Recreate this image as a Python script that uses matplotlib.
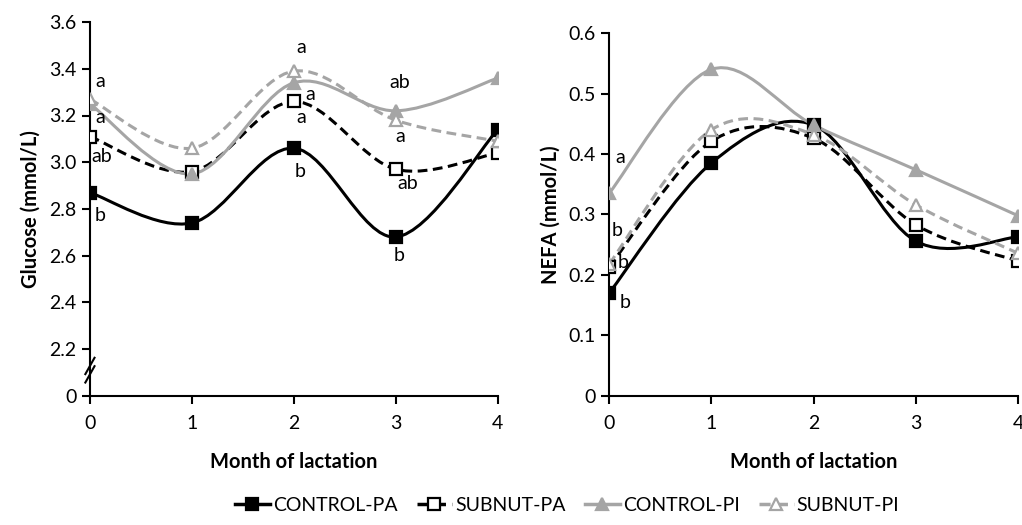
import matplotlib
matplotlib.use("Agg")
import matplotlib.pyplot as plt
import numpy as np
from matplotlib.path import Path
from matplotlib.patches import PathPatch
from matplotlib.lines import Line2D

plt.rcParams["font.family"] = ["Lato", "DejaVu Sans"]

months = [0, 1, 2, 3, 4]
series_names = ["CONTROL-PA", "SUBNUT-PA", "CONTROL-PI", "SUBNUT-PI"]

glucose_control_pa = [2.87, 2.74, 3.06, 2.68, 3.14]
glucose_subnut_pa = [3.11, 2.96, 3.26, 2.97, 3.04]
glucose_control_pi = [3.25, 2.95, 3.34, 3.22, 3.36]
glucose_subnut_pi = [3.27, 3.06, 3.39, 3.18, 3.09]

nefa_control_pa = [0.170, 0.385, 0.448, 0.256, 0.263]
nefa_subnut_pa = [0.213, 0.421, 0.426, 0.283, 0.223]
nefa_control_pi = [0.335, 0.540, 0.448, 0.374, 0.298]
nefa_subnut_pi = [0.218, 0.440, 0.432, 0.316, 0.236]

# significance letters (x, y, text)
glucose_letters = [
    (0.1, 3.345, "a"), (0.1, 3.19, "a"), (0.12, 3.025, "ab"), (0.1, 2.77, "b"),
    (2.07, 3.49, "a"), (2.16, 3.29, "a"), (2.07, 3.19, "a"), (2.06, 2.96, "b"),
    (3.04, 3.34, "ab"), (3.04, 3.11, "a"), (3.12, 2.91, "ab"), (3.03, 2.60, "b"),
]
nefa_letters = [
    (0.11, 0.395, "a"), (0.08, 0.274, "b"), (0.14, 0.22, "b"), (0.16, 0.154, "b"),
]

GREY = "#a5a5a5"
FS = 14
styles = {
    "CONTROL-PA": dict(color="black", ls="-", marker="s", mfc="black"),
    "SUBNUT-PA": dict(color="black", ls=(0, (3.2, 1.8)), marker="s", mfc="white"),
    "CONTROL-PI": dict(color=GREY, ls="-", marker="^", mfc=GREY),
    "SUBNUT-PI": dict(color=GREY, ls=(0, (3.2, 1.8)), marker="^", mfc="white"),
}


def smooth_path(x, y):
    # Excel-style smoothed line: cubic Bezier through points
    pts = np.column_stack([x, y]).astype(float)
    n = len(pts)
    verts = [pts[0]]
    codes = [Path.MOVETO]
    for i in range(n - 1):
        p0 = pts[i - 1] if i > 0 else pts[i]
        p1 = pts[i]
        p2 = pts[i + 1]
        p3 = pts[i + 2] if i + 2 < n else pts[i + 1]
        c1 = p1 + (p2 - p0) / 6.0
        c2 = p2 - (p3 - p1) / 6.0
        verts += [c1, c2, p2]
        codes += [Path.CURVE4] * 3
    return Path(verts, codes)


def draw_series(ax, x, y, name):
    st = styles[name]
    patch = PathPatch(smooth_path(x, y), fill=False, edgecolor=st["color"],
                      lw=2.2, linestyle=st["ls"], zorder=2)
    ax.add_patch(patch)
    ax.plot(x, y, ls="none", marker=st["marker"], ms=8.5, mfc=st["mfc"],
            mec=st["color"], mew=1.6, zorder=3)


fig = plt.figure(figsize=(10.22, 5.25), dpi=100)
ax1 = fig.add_axes([0.088, 0.246, 0.399, 0.712])
ax2 = fig.add_axes([0.596, 0.246, 0.400, 0.691])

glucose = [glucose_control_pa, glucose_subnut_pa, glucose_control_pi, glucose_subnut_pi]
nefa = [nefa_control_pa, nefa_subnut_pa, nefa_control_pi, nefa_subnut_pi]

for name, vals in zip(series_names, glucose):
    draw_series(ax1, months, vals, name)
for name, vals in zip(series_names, nefa):
    draw_series(ax2, months, vals, name)

for x, y, t in glucose_letters:
    ax1.text(x, y, t, fontsize=FS, ha="center", va="center", zorder=4)
for x, y, t in nefa_letters:
    ax2.text(x, y, t, fontsize=FS, ha="center", va="center", zorder=4)

ax1.set_ylim(2.0, 3.6)
ax1.set_yticks(np.arange(2.0, 3.61, 0.2))
ax1.set_yticklabels(["0"] + [f"{v:.1f}" for v in np.arange(2.2, 3.61, 0.2)])
ax1.set_ylabel("Glucose (mmol/L)", fontsize=FS + 0.5, fontweight="bold", labelpad=6)

ax2.set_ylim(0, 0.6)
ax2.set_yticks(np.arange(0, 0.61, 0.1))
ax2.set_yticklabels(["0"] + [f"{v:.1f}" for v in np.arange(0.1, 0.61, 0.1)])
ax2.set_ylabel("NEFA (mmol/L)", fontsize=FS + 0.5, fontweight="bold", labelpad=6)

for ax in (ax1, ax2):
    ax.set_xlim(0, 4)
    ax.set_xticks(months)
    ax.set_xlabel("Month of lactation", fontsize=FS + 0.5, fontweight="bold", labelpad=14)
    for s in ("top", "right"):
        ax.spines[s].set_visible(False)
    for s in ("left", "bottom"):
        ax.spines[s].set_linewidth(1.5)
        ax.spines[s].set_zorder(1)
    ax.tick_params(labelsize=FS, width=1.5, length=6, direction="out")
    ax.tick_params(axis="x", pad=8)

# axis break marks on glucose y axis
for dy in (-0.018, 0.018):
    yb = 2.11 + dy
    ax1.plot([-0.045, 0.045], [yb - 0.035, yb + 0.035], color="black", lw=1.5,
             clip_on=False, zorder=5)

handles = []
for name in series_names:
    st = styles[name]
    handles.append(Line2D([], [], color=st["color"], ls=st["ls"], lw=2.5,
                          marker=st["marker"], ms=8.5, mfc=st["mfc"],
                          mec=st["color"], mew=1.6))
fig.legend(handles, series_names, loc="center", bbox_to_anchor=(0.555, 0.038),
           ncol=4, frameon=False, fontsize=FS, handlelength=1.8,
           handletextpad=0.15, columnspacing=1.0)

fig.savefig("out.png", dpi=100)
